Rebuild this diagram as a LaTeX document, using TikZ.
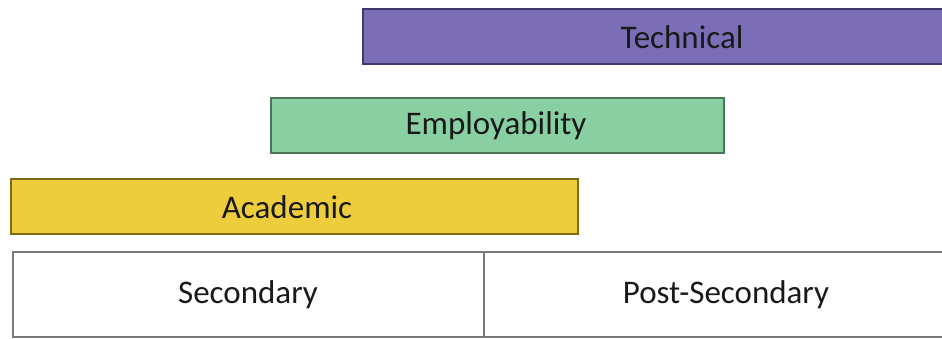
\documentclass[tikz,border=0pt]{standalone}
\usepackage{fontspec}
\setmainfont{Carlito}
\definecolor{techfill}{HTML}{7B6DB6}
\definecolor{techedge}{HTML}{3F3670}
\definecolor{empfill}{HTML}{88D0A2}
\definecolor{empedge}{HTML}{4A7558}
\definecolor{acadfill}{HTML}{EDCD3C}
\definecolor{acadedge}{HTML}{7E6A14}
\definecolor{boxedge}{HTML}{7A7A7A}
\tikzset{
  bar/.style={rectangle, anchor=north west, inner sep=0pt, line width=2pt},
  lbl/.style={font=\fontsize{33}{36}\selectfont, text=black!90, inner sep=0pt},
  stage/.style={rectangle, anchor=north west, inner sep=0pt, draw=boxedge, line width=2pt, fill=white}
}
\begin{document}
\begin{tikzpicture}[x=1pt,y=1pt]
\useasboundingbox[fill=white] (0,0) rectangle (942,-339);
% Technical
\node[bar, fill=techfill, draw=techedge, minimum width=590pt, minimum height=55pt] (tech) at (362,-8) {};
\node[lbl] (techlbl) at (682,-37) {Technical};
% Employability
\node[bar, fill=empfill, draw=empedge, minimum width=453pt, minimum height=55pt] (emp) at (270,-97) {};
\node[lbl] (emplbl) at (496,-126) {Employability};
% Academic
\node[bar, fill=acadfill, draw=acadedge, minimum width=567pt, minimum height=55pt] (acad) at (10,-178) {};
\node[lbl] (acadlbl) at (287,-207) {Academic};
% Stages
\node[stage, minimum width=471pt, minimum height=85pt] (sec) at (12,-251) {};
\node[stage, minimum width=470pt, minimum height=85pt] (post) at (483,-251) {};
\node[lbl] (seclbl) at (248,-295) {Secondary};
\node[lbl] (postlbl) at (726,-295) {Post-Secondary};
\end{tikzpicture}
\end{document}
